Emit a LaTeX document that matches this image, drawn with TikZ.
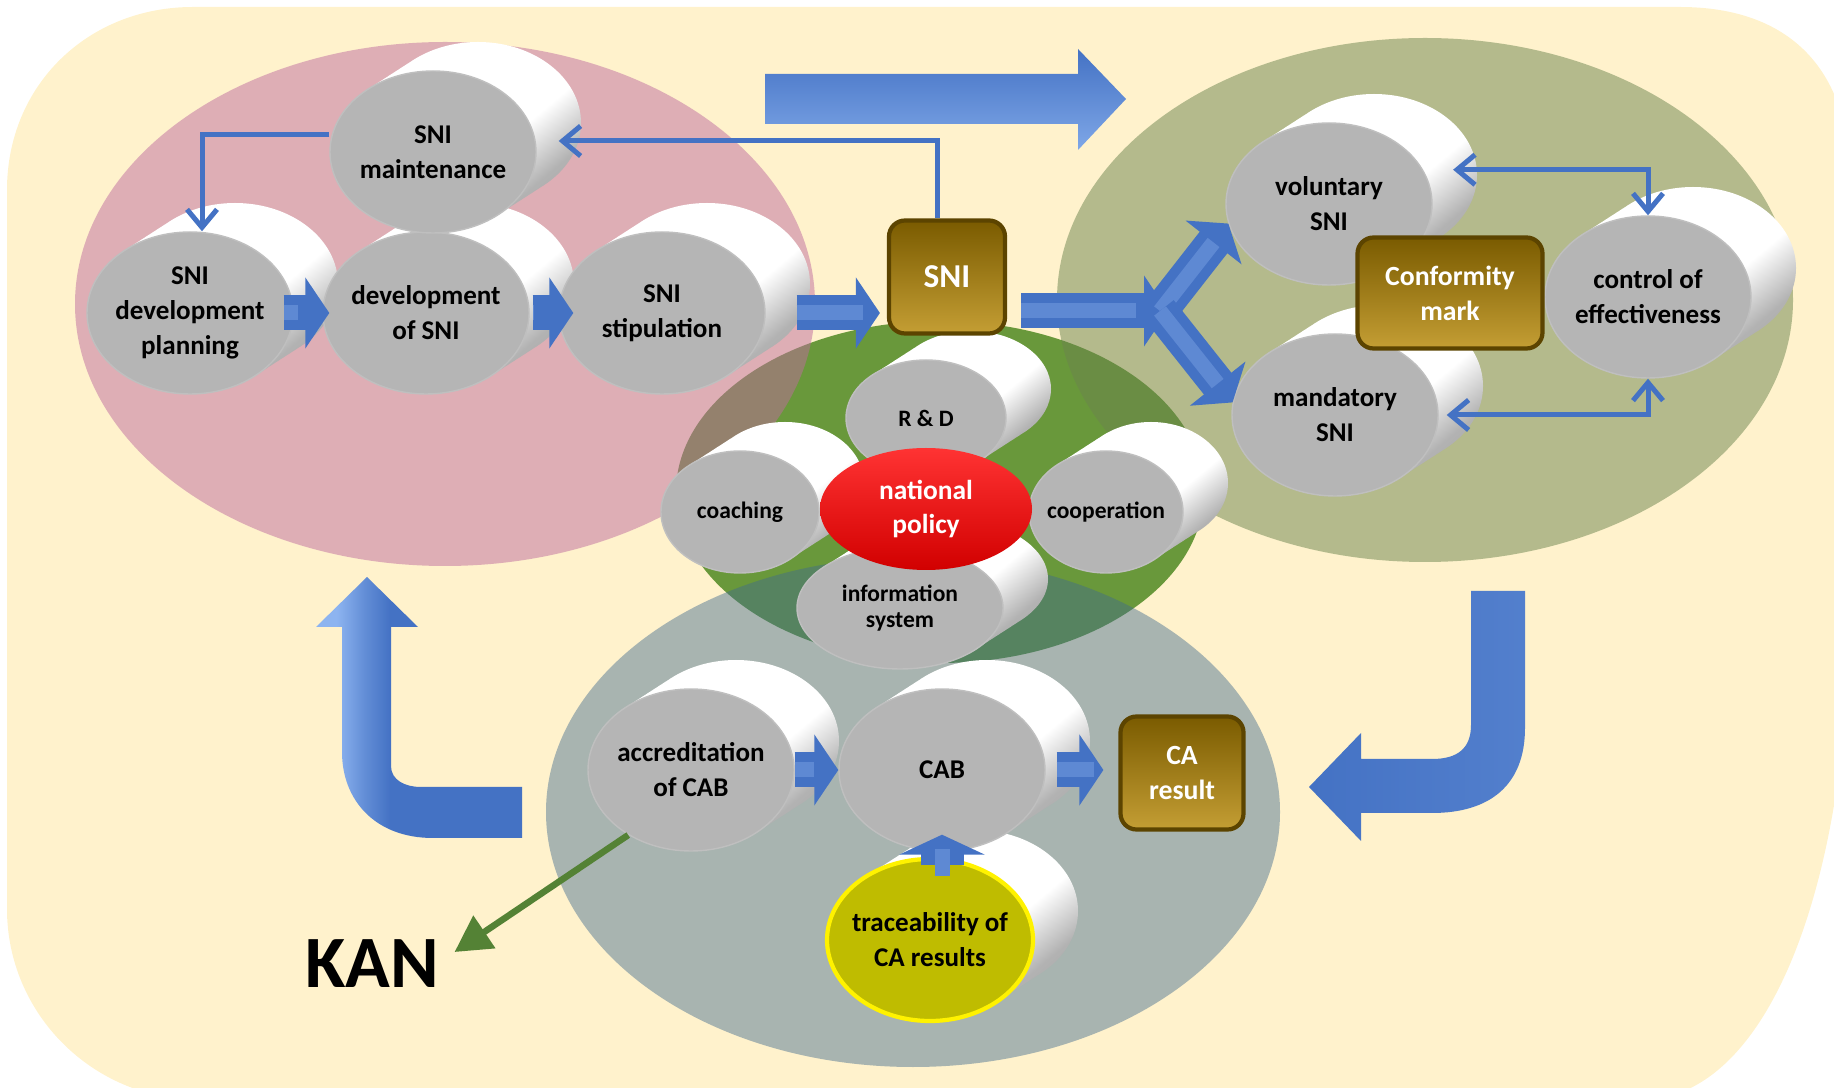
\documentclass[tikz,border=0pt]{standalone}
\usepackage{fontspec}
\setmainfont{Carlito}
\usetikzlibrary{positioning,shapes.geometric,arrows.meta,calc}

\definecolor{bgyellow}{RGB}{255,242,204}
\definecolor{pinkzone}{RGB}{191,108,160}
\definecolor{olivezone}{RGB}{107,132,78}
\definecolor{greenzone}{RGB}{105,152,59}
\definecolor{tealzone}{RGB}{63,106,142}
\definecolor{facegrey}{RGB}{181,181,181}
\definecolor{traceyellow}{RGB}{191,188,0}
\definecolor{linkblue}{RGB}{68,114,196}
\definecolor{arrowlight}{RGB}{141,180,240}
\definecolor{goldtop}{RGB}{122,91,0}
\definecolor{goldbot}{RGB}{196,158,52}
\definecolor{goldrim}{RGB}{92,68,0}
\definecolor{kangreen}{RGB}{84,130,53}

\pgfdeclareverticalshading{cylside}{100bp}{color(0bp)=(black!45); color(30bp)=(black!30);
  color(42bp)=(white); color(100bp)=(white)}
\pgfdeclarehorizontalshading{lbar}{100bp}{color(0bp)=(arrowlight); color(30bp)=(arrowlight);
  color(37bp)=(linkblue!60!arrowlight); color(43bp)=(linkblue); color(100bp)=(linkblue)}

\pgfdeclarelayer{zones}
\pgfdeclarelayer{bodies}
\pgfsetlayers{zones,bodies,main}

\tikzset{
  face/.style={ellipse, fill=facegrey, draw=black!25, line width=0.4pt,
    inner xsep=-1mm, inner ysep=0pt, align=center,
    minimum width=20.6mm, minimum height=16.2mm,
    font=\bfseries\fontsize{7.7}{10}\selectfont},
  smallface/.style={face, font=\bfseries\fontsize{6.7}{7.6}\selectfont},
  cylbody/.style={shading=cylside, shading angle=40},
  goldbox/.style={rectangle, rounded corners=1.6mm, draw=goldrim, line width=1.2pt,
    top color=goldtop, middle color=goldtop!85!goldbot, bottom color=goldbot,
    text=white, align=center, font=\bfseries\fontsize{7.9}{10}\selectfont},
  link/.style={draw=linkblue, line width=0.5mm, -{Straight Barb[length=1.8mm,width=3mm]}},
  twolink/.style={link, {Straight Barb[length=1.8mm,width=3mm]}-{Straight Barb[length=1.8mm,width=3mm]}},
  fatarrow/.style={draw=linkblue, line width=3.5mm, -{Triangle[length=2.4mm,width=7mm]},
    postaction={draw=linkblue!65!arrowlight, line width=1.5mm, -, shorten >=2.4mm}},
  bigarrow/.style={top color=linkblue, bottom color=arrowlight!80!linkblue},
  kanarrow/.style={draw=kangreen, line width=0.65mm, -{Triangle[length=3.6mm,width=3.8mm]}},
}

\begin{document}
\begin{tikzpicture}[x=0.1mm, y=-0.1mm, on grid]
\useasboundingbox (0,0) rectangle (1834,1088);

% zones
\begin{pgfonlayer}{zones}
  \clip (0,0) rectangle (1834,1088);
  \fill[bgyellow] (7,190) .. controls (7,85) and (88,7) .. (193,7) -- (1680,7)
    .. controls (1790,7) and (1850,70) .. (1850,180) -- (1850,600)
    .. controls (1850,880) and (1770,1100) .. (1640,1100) -- (200,1100)
    .. controls (93,1100) and (7,1014) .. (7,909) -- cycle;
  \fill[greenzone] (940,492) ellipse [x radius=264, y radius=171];
  \fill[pinkzone, fill opacity=0.5] (445,304) ellipse [x radius=370, y radius=262];
  \fill[olivezone, fill opacity=0.5] (1425,300) ellipse [x radius=368, y radius=262];
  \fill[tealzone, fill opacity=0.45] (913,812) ellipse [x radius=367, y radius=255];
\end{pgfonlayer}

% big arrows
\shade[bigarrow] (765,74) -- (1078,74) -- (1078,49) -- (1126,99) -- (1078,150) -- (1078,124) -- (765,124) -- cycle;
\shade[shading=lbar] (367,577) -- (418,627) -- (391,627) -- (391,766)
  .. controls (391,780) and (405,787) .. (421,787) -- (522,787) -- (522,838) -- (433,838)
  .. controls (375,838) and (342,800) .. (342,752) -- (342,627) -- (316,627) -- cycle;
\shade[left color=linkblue, right color=linkblue!80!arrowlight] (1471,591) -- (1525,591) -- (1525,728)
  .. controls (1525,785) and (1490,813) .. (1432,813) -- (1361,813) -- (1361,841) -- (1309,787)
  -- (1361,733) -- (1361,759) -- (1432,759) .. controls (1458,759) and (1471,748) .. (1471,725) -- cycle;

% SNI development
\node[face] (planning) at (190,313) {SNI\\development\\planning};
\node[face, right=23.6mm of planning] (devsni) {development\\of SNI};
\node[face, right=23.6mm of devsni] (stip) {SNI\\stipulation};
\node[face] (maint) at (433,152) {SNI\\maintenance};

% SNI application
\node[face] (vol) at (1329,204) {voluntary\\SNI};
\node[face] (mand) at (1335,415) {mandatory\\SNI};
\node[face] (ctrl) at (1648,297) {control of\\effectiveness};

% national policy
\node[smallface, minimum width=16mm, minimum height=11.6mm] (rnd) at (926,418) {R \& D};
\node[smallface, minimum width=15.8mm, minimum height=12.2mm] (coach) at (740,512) {coaching};
\node[smallface, minimum width=15.4mm, minimum height=12.2mm] (coop) at (1106,512) {cooperation};
\node[smallface, minimum width=20.6mm, minimum height=12.2mm] (info) at (900,608) {information\\system};
\node[ellipse, inner sep=0pt, minimum width=21.2mm, minimum height=12.2mm,
  top color=red!80!white, middle color=red, bottom color=red!82!black,
  text=white, align=center, font=\bfseries\fontsize{7.8}{9.5}\selectfont] (natpol) at (926,509) {national\\policy};

% conformity assessment
\node[face] (acc) at (691,770) {accreditation\\of CAB};
\node[face, right=25.1mm of acc] (cab) {CAB};
\node[face, fill=traceyellow, draw=yellow, line width=1.2pt] (trace) at (930,940) {traceability of\\CA results};
\node[font=\bfseries\fontsize{21}{24}\selectfont, inner sep=1.5mm] (kan) at (372,964) {KAN};

\begin{pgfonlayer}{bodies}
  \foreach \n/\rx/\ry in {maint/103/81, planning/103/81, devsni/103/81, stip/103/81,
      vol/103/81, mand/103/81, ctrl/103/81, acc/103/81, cab/103/81, trace/103/81,
      rnd/80/58, coach/79/61, coop/77/61, info/103/61}
    \shade[cylbody] \foreach \s in {0,...,8} {
      ($(\n.center)+(45*\s/8,-29*\s/8)$) ellipse [x radius=\rx, y radius=\ry] };
\end{pgfonlayer}

% connectors
\coordinate (branch) at (1160,311);
\draw[fatarrow, shorten <=-1mm, shorten >=-0.7mm] (planning.east) -- (devsni.west);
\draw[fatarrow, shorten <=0.3mm, shorten >=-1.5mm] (devsni.east) -- (stip.west);
\node[goldbox, minimum width=11.6mm, minimum height=11.3mm,
  font=\bfseries\fontsize{9.5}{11}\selectfont] (sni) at (947,277) {SNI};
\draw[fatarrow, shorten <=3.1mm, shorten >=0.7mm] (stip.east) -- (stip.east -| sni.west);
\draw[fatarrow, shorten <=1.4mm, shorten >=-0.8mm] (sni.east |- branch) -- (branch);
\draw[fatarrow] (branch) -- (vol.191);
\draw[fatarrow] (branch) -- (mand.173);
\node[goldbox, minimum width=18.5mm, minimum height=11.1mm] (mark) at (1450,293) {Conformity\\mark};

\node[goldbox, minimum width=12.3mm, minimum height=11.3mm] (car) at (1182,773) {CA\\result};
\draw[fatarrow] (acc.east) -- (acc.east -| cab.west);
\draw[fatarrow, shorten <=1.1mm, shorten >=1.5mm] (cab.east) -- (cab.east -| car.west);
\draw[fatarrow, line width=4.3mm, -{Triangle[length=2mm,width=8.5mm]},
  shorten <=-0.8mm, shorten >=-1.7mm] (trace.north -| cab.south) -- (cab.south);

\draw[link] ([xshift=-1mm]sni.north) |- ([xshift=2.2mm,yshift=1.1mm]maint.east);
\draw[link] ([yshift=1.7mm]maint.west) -| ([xshift=1.2mm]planning.north);
\draw[twolink] ([xshift=3mm]vol.20) -| (ctrl.north);
\draw[twolink] ([xshift=0.8mm]mand.east) -| (ctrl.south);

\draw[kanarrow] (acc.226) -- ([yshift=1.2mm]kan.east);
\end{tikzpicture}
\end{document}
